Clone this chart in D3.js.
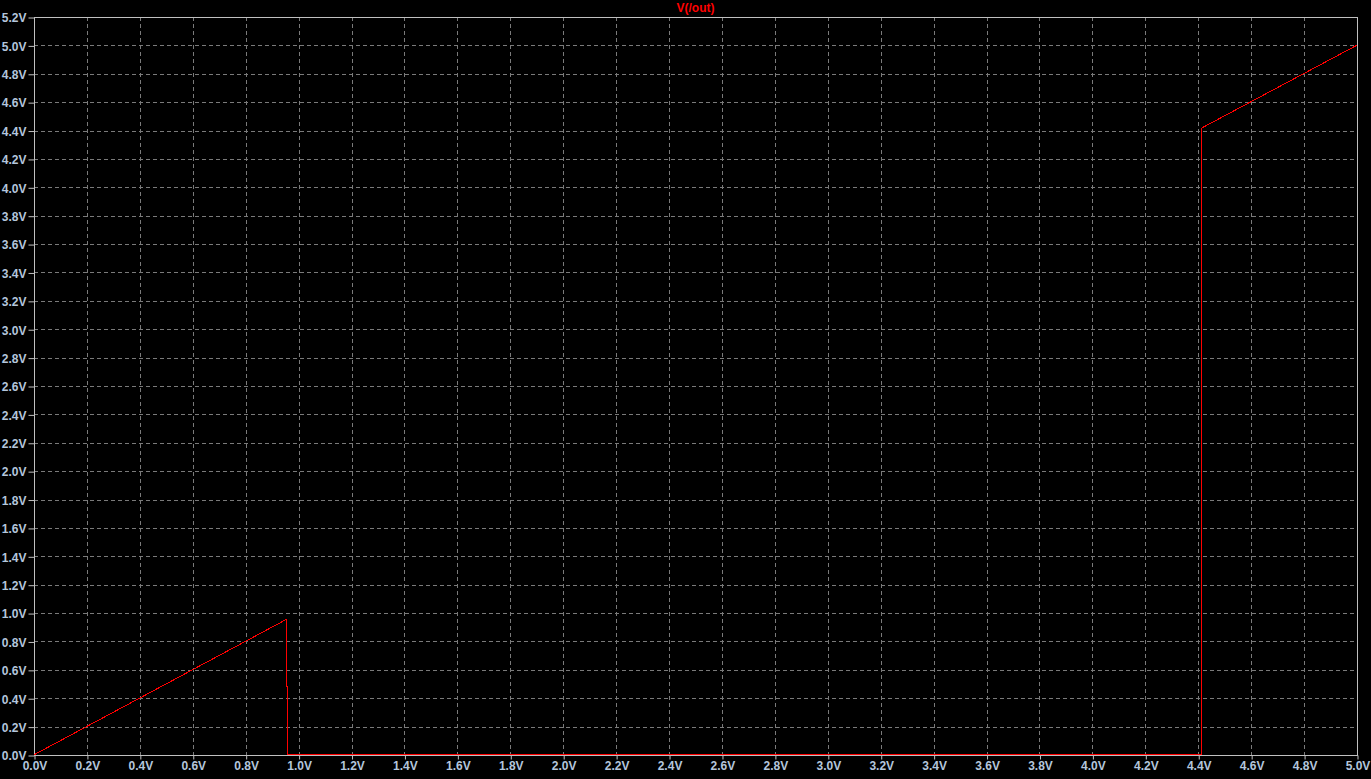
<!DOCTYPE html>
<html>
<head>
<meta charset="utf-8">
<script src="https://cdn.jsdelivr.net/npm/d3@7"></script>
<style>
html,body{margin:0;padding:0;background:#000;}
svg{display:block;}
</style>
</head>
<body>
<script>
const title = "V(/out)";
const xValues = [0, 0.952, 0.952, 0.956, 0.956, 4.412, 4.412, 5.0];
const yValues = [0, 0.952, 0.48, 0.48, 0, 0, 4.415, 5.0];
const xTicks = d3.range(0, 26).map(i => i * 0.2);
const yTicks = d3.range(0, 27).map(i => i * 0.2);

const W = 1371, H = 779;
const m = {left: 34, right: 14, top: 17, bottom: 24};
const svg = d3.select("body").append("svg").attr("width", W).attr("height", H);
svg.append("rect").attr("width", W).attr("height", H).attr("fill", "#000");

const x = d3.scaleLinear().domain([0, 5]).range([m.left, W - m.right]);
const y = d3.scaleLinear().domain([0, 5.2]).range([H - m.bottom, m.top]);

const labelColor = "#b4c6dc";
const font = "'Liberation Sans', Arial, sans-serif";

// grid
const grid = svg.append("g");
grid.selectAll("line.v").data(xTicks.slice(1, -1)).join("line")
  .attr("x1", d => Math.round(x(d)) + 0.5).attr("x2", d => Math.round(x(d)) + 0.5)
  .attr("y1", m.top).attr("y2", H - m.bottom)
  .attr("stroke", "#7a7a7a").attr("stroke-dasharray", "4,3").attr("stroke-width", 1);
grid.selectAll("line.h").data(yTicks.slice(1, -1)).join("line")
  .attr("y1", d => Math.round(y(d)) + 0.5).attr("y2", d => Math.round(y(d)) + 0.5)
  .attr("x1", m.left).attr("x2", W - m.right)
  .attr("stroke", "#7a7a7a").attr("stroke-dasharray", "4,3").attr("stroke-width", 1);

// frame
svg.append("rect")
  .attr("x", m.left + 0.5).attr("y", m.top + 0.5)
  .attr("width", W - m.right - m.left).attr("height", H - m.bottom - m.top)
  .attr("fill", "none").attr("stroke", "#c0c0c0").attr("stroke-width", 1);

// axes
const fmt = d => d3.format(".1f")(d) + "V";
const xAxis = svg.append("g").attr("transform", `translate(0.5,${H - m.bottom + 0.5})`)
  .call(d3.axisBottom(x).tickValues(xTicks).tickFormat(fmt).tickSize(4).tickPadding(2));
const yAxis = svg.append("g").attr("transform", `translate(${m.left + 0.5},0.5)`)
  .call(d3.axisLeft(y).tickValues(yTicks).tickFormat(fmt).tickSize(6).tickPadding(2));
[xAxis, yAxis].forEach(a => {
  a.select(".domain").remove();
  a.selectAll(".tick line").attr("stroke", "#c0c0c0");
  a.selectAll(".tick text").attr("fill", labelColor)
    .style("font-family", font).style("font-size", "12px").style("font-weight", "bold");
});
yAxis.selectAll(".tick text").attr("dy", "0.36em");

// series
const pts = xValues.map((v, i) => [v, yValues[i]]);
svg.append("path").datum(pts)
  .attr("d", d3.line().x(d => x(d[0]) + 0.5).y(d => y(d[1]) - 0.5))
  .attr("fill", "none").attr("stroke", "#ff0000").attr("stroke-width", 1)
  .attr("shape-rendering", "crispEdges");

// title
svg.append("text").attr("x", (m.left + W - m.right) / 2).attr("y", 12)
  .attr("text-anchor", "middle").attr("fill", "#ff0000")
  .style("font-family", font).style("font-size", "12px").style("font-weight", "bold")
  .text(title);
</script>
</body>
</html>
